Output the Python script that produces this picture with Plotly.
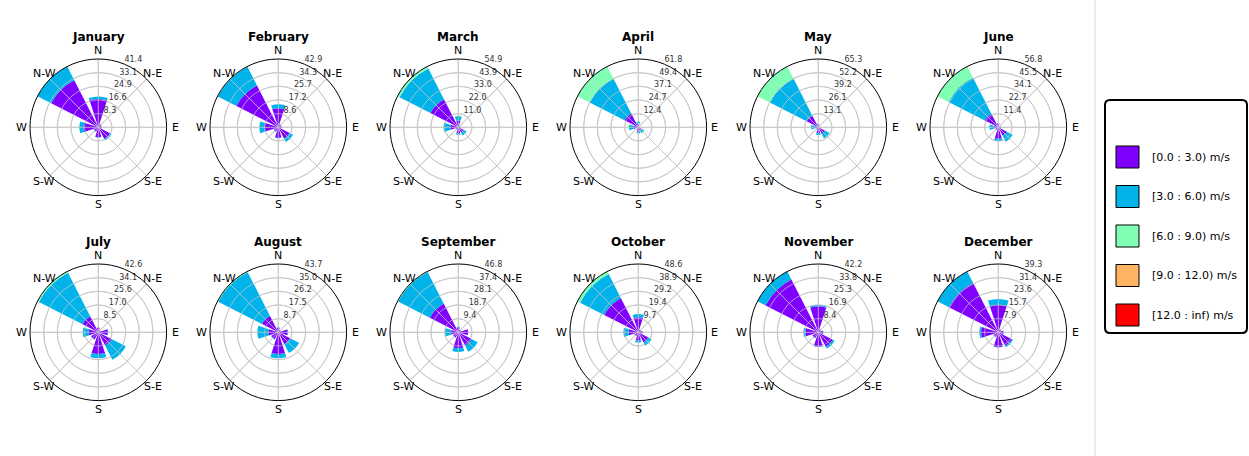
import math
import plotly.graph_objects as go

W_PX, H_PX = 1249, 456

months = ["January", "February", "March", "April", "May", "June",
          "July", "August", "September", "October", "November", "December"]
directions = ["N", "N-E", "E", "S-E", "S", "S-W", "W", "N-W"]
dir_angles = [0, 45, 90, 135, 180, 225, 270, 315]

speed_labels = ["[0.0 : 3.0) m/s", "[3.0 : 6.0) m/s", "[6.0 : 9.0) m/s",
                "[9.0 : 12.0) m/s", "[12.0 : inf) m/s"]
speed_colors = ["#8000ff", "#00b4eb", "#80ffb4", "#ffb462", "#ff0000"]

# Frequency (%) per month, directions ordered N, N-E, E, S-E, S, S-W, W, N-W
speed_0_3 = [
    [17.2, 2.0, 2.0, 8.0, 6.0, 3.0, 9.0, 32.1],
    [12.0, 2.0, 2.0, 8.0, 6.5, 3.0, 8.5, 29.5],
    [5.5, 1.5, 1.5, 5.0, 5.0, 2.0, 6.5, 25.2],
    [3.0, 1.0, 1.0, 3.5, 4.0, 1.5, 4.0, 14.0],
    [3.0, 1.5, 1.5, 7.0, 5.5, 2.0, 3.0, 12.5],
    [3.0, 1.0, 2.0, 8.0, 9.5, 2.5, 3.5, 12.5],
    [3.0, 1.5, 6.0, 9.5, 13.5, 5.0, 6.0, 11.0],
    [3.0, 1.5, 6.0, 8.5, 13.9, 5.0, 6.4, 11.7],
    [3.5, 2.0, 6.8, 10.3, 10.9, 4.0, 5.0, 21.9],
    [10.7, 2.0, 3.0, 8.0, 6.0, 3.0, 7.0, 27.2],
    [16.0, 2.0, 3.0, 10.0, 8.9, 4.0, 8.0, 36.6],
    [15.7, 2.0, 3.0, 8.8, 8.6, 3.0, 10.0, 31.9],
]
speed_3_6 = [
    [1.5, 0.0, 0.3, 1.0, 0.2, 0.2, 2.5, 9.32],
    [2.4, 0.2, 0.3, 2.4, 0.4, 0.3, 3.4, 13.2],
    [3.5, 0.3, 0.3, 2.5, 1.0, 0.5, 5.5, 27.9],
    [2.0, 0.3, 0.3, 2.5, 1.5, 0.3, 4.5, 35.4],
    [0.5, 0.2, 0.2, 5.0, 2.0, 0.3, 4.0, 39.5],
    [0.5, 0.2, 0.3, 5.5, 2.0, 0.3, 4.0, 34.0],
    [0.0, 0.0, 0.3, 9.8, 2.7, 0.3, 3.8, 30.6],
    [0.2, 0.0, 0.3, 6.4, 2.7, 0.3, 7.0, 31.5],
    [0.4, 0.0, 0.0, 4.6, 2.6, 0.2, 4.1, 24.4],
    [2.3, 0.2, 0.2, 2.7, 1.3, 0.2, 3.7, 19.3],
    [0.9, 0.0, 0.2, 1.3, 0.2, 0.2, 1.3, 5.6],
    [3.5, 0.0, 0.2, 0.8, 0.2, 0.2, 0.9, 7.4],
]
speed_6_9 = [
    [0.0, 0.0, 0.0, 0.0, 0.0, 0.0, 0.0, 0.0],
    [0.0, 0.0, 0.0, 0.0, 0.0, 0.0, 0.0, 0.2],
    [0.3, 0.0, 0.0, 0.0, 0.0, 0.0, 0.0, 1.83],
    [1.0, 0.0, 0.0, 0.3, 0.2, 0.0, 0.5, 12.4],
    [0.0, 0.0, 0.0, 0.2, 0.0, 0.0, 0.2, 13.3],
    [0.0, 0.0, 0.0, 0.2, 0.0, 0.0, 0.2, 10.33],
    [0.0, 0.0, 0.0, 0.0, 0.0, 0.0, 0.0, 1.0],
    [0.0, 0.0, 0.0, 0.0, 0.0, 0.0, 0.0, 0.5],
    [0.0, 0.0, 0.0, 0.0, 0.0, 0.0, 0.0, 0.5],
    [0.0, 0.0, 0.0, 0.0, 0.0, 0.0, 0.0, 2.1],
    [0.0, 0.0, 0.0, 0.0, 0.0, 0.0, 0.0, 0.0],
    [0.0, 0.0, 0.0, 0.0, 0.0, 0.0, 0.0, 0.0],
]
speed_9_12 = [[0.0] * 8 for _ in range(12)]
speed_12_inf = [[0.0] * 8 for _ in range(12)]

speed_bins = [speed_0_3, speed_3_6, speed_6_9, speed_9_12, speed_12_inf]

# Centres of the 12 rose panels (pixels) and radius of the polar disc
panel_cx = [98.3, 278.3, 458.3, 638.3, 818.3, 998.3]
panel_cy = [127.3, 332.3]
radius_px = 68.3
title_dy = 90.5
label_bearing = 22.5      # compass bearing of the radial value labels
compass_r_px = 76.7       # distance of the compass labels from the centre

GRID = "#c8c8c8"
FONT = "DejaVu Sans"


def px(x):
    return x / W_PX


def py(y):
    return 1 - y / H_PX


fig = go.Figure()
layout_polars = {}
annotations = []

for m, month in enumerate(months):
    row, col = divmod(m, 6)
    cx, cy = panel_cx[col], panel_cy[row]
    key = "polar" if m == 0 else f"polar{m + 1}"

    for b, bins in enumerate(speed_bins):
        fig.add_trace(go.Barpolar(
            r=bins[m], theta=dir_angles, width=[36] * 8,
            marker=dict(color=speed_colors[b], line=dict(width=0)),
            name=speed_labels[b], showlegend=False, subplot=key,
        ))

    totals = [sum(bins[m][d] for bins in speed_bins) for d in range(8)]
    rmax = max(totals)
    tickvals = [rmax * k / 5 for k in range(1, 6)]
    ticktext = [f"{v:.1f}" for v in tickvals]

    # grid rings and spokes drawn over the bars
    ring_r, ring_t = [], []
    for v in tickvals[:-1]:
        ring_t += list(range(0, 361, 2)) + [None]
        ring_r += [v] * 181 + [None]
    for a in dir_angles:
        ring_t += [a, a, None]
        ring_r += [0, rmax, None]
    fig.add_trace(go.Scatterpolar(
        r=ring_r, theta=ring_t, mode="lines",
        line=dict(color=GRID, width=0.8), connectgaps=False,
        showlegend=False, hoverinfo="skip", subplot=key,
    ))

    # radial value labels along the 22.5 degree bearing
    fig.add_trace(go.Scatterpolar(
        r=tickvals, theta=[label_bearing] * 5, mode="text",
        text=ticktext, textposition="top right",
        textfont=dict(family=FONT, size=8, color="#333333"),
        cliponaxis=False, showlegend=False, hoverinfo="skip", subplot=key,
    ))

    layout_polars[key] = dict(
        domain=dict(x=[px(cx - radius_px), px(cx + radius_px)],
                    y=[py(cy + radius_px), py(cy - radius_px)]),
        bgcolor="white",
        barmode="stack",
        angularaxis=dict(
            direction="clockwise", rotation=90,
            tickmode="array", tickvals=dir_angles,
            showline=True, linecolor="black", linewidth=1,
            showgrid=True, gridcolor=GRID, gridwidth=0.8,
            ticks="", showticklabels=False,
        ),
        radialaxis=dict(
            range=[0, rmax],
            tickmode="array", tickvals=tickvals,
            showline=False, showgrid=True, gridcolor=GRID, gridwidth=0.8,
            ticks="", showticklabels=False,
        ),
    )

    # compass labels just outside the rim
    for name, a in zip(directions, dir_angles):
        ang = math.radians(a)
        annotations.append(dict(
            x=px(cx + compass_r_px * math.sin(ang)),
            y=py(cy - compass_r_px * math.cos(ang)),
            xref="paper", yref="paper", text=name, showarrow=False,
            xanchor="center", yanchor="middle",
            font=dict(family=FONT, size=11, color="black"),
        ))

    annotations.append(dict(
        x=px(cx), y=py(cy - title_dy), xref="paper", yref="paper",
        text=f"<b>{month}</b>", showarrow=False,
        xanchor="center", yanchor="middle",
        font=dict(family=FONT, size=12, color="black"),
    ))

# Speed legend at the right
box_l, box_r, box_t, box_b = 1105, 1247, 100, 333
rc = 5
shapes = [
    dict(type="line", xref="paper", yref="paper",
         x0=px(1095), x1=px(1095), y0=0, y1=1,
         line=dict(color="#d9d9d9", width=1)),
    dict(type="path", xref="paper", yref="paper",
         path=(f"M {px(box_l + rc)},{py(box_t)} L {px(box_r - rc)},{py(box_t)} "
               f"Q {px(box_r)},{py(box_t)} {px(box_r)},{py(box_t + rc)} "
               f"L {px(box_r)},{py(box_b - rc)} "
               f"Q {px(box_r)},{py(box_b)} {px(box_r - rc)},{py(box_b)} "
               f"L {px(box_l + rc)},{py(box_b)} "
               f"Q {px(box_l)},{py(box_b)} {px(box_l)},{py(box_b - rc)} "
               f"L {px(box_l)},{py(box_t + rc)} "
               f"Q {px(box_l)},{py(box_t)} {px(box_l + rc)},{py(box_t)} Z"),
         line=dict(color="black", width=2), fillcolor="white"),
]
item_top, item_step = 157, 39.5
for i, (lab, colr) in enumerate(zip(speed_labels, speed_colors)):
    yc = item_top + i * item_step
    shapes.append(dict(type="rect", xref="paper", yref="paper",
                       x0=px(1116), x1=px(1139), y0=py(yc + 11), y1=py(yc - 11),
                       fillcolor=colr, line=dict(color="black", width=1)))
    annotations.append(dict(
        x=px(1150), y=py(yc), xref="paper", yref="paper", text=lab,
        showarrow=False, xanchor="left", yanchor="middle",
        font=dict(family=FONT, size=11, color="black"),
    ))

fig.update_layout(
    width=W_PX, height=H_PX,
    margin=dict(l=0, r=0, t=0, b=0),
    paper_bgcolor="white", plot_bgcolor="white",
    showlegend=False,
    annotations=annotations, shapes=shapes,
    **layout_polars,
)

fig.write_html("out.html")
